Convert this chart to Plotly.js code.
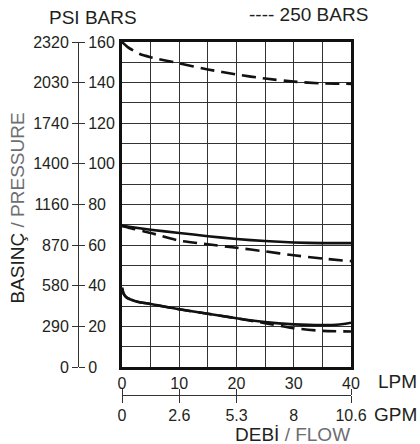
<!DOCTYPE html>
<html>
<head>
<meta charset="utf-8">
<script src="https://cdn.plot.ly/plotly-3.0.1.min.js"></script>
<style>html,body{margin:0;padding:0;background:#fff;}#chart{width:420px;height:444px;}</style>
</head>
<body>
<div id="chart"></div>
<script>
// ---- data ----
const flowLPM = [0, 5, 10, 15, 20, 25, 30, 35, 40];
const lpmTickVals = [0, 5, 10, 15, 20, 25, 30, 35, 40];
const lpmTickText = ['0', '', '10', '', '20', '', '30', '', '40'];
const gpmTickVals = [0, 10, 20, 30, 40];
const gpmTickText = ['0', '2.6', '5.3', '8', '10.6'];
const gpmMarkVals = [0, 10, 20, 40];
const barGridVals = [0, 10, 20, 30, 40, 50, 60, 70, 80, 90, 100, 110, 120, 130, 140, 150, 160];
const barTickVals = [0, 20, 40, 60, 80, 100, 120, 140, 160];
const barTickText = ['0', '20', '40', '60', '80', '100', '120', '140', '160'];
const psiTickText = ['0', '290', '580', '870', '1160', '1400', '1740', '2030', '2320'];

const top250X = [0, 1, 3, 5, 10, 15, 20, 25, 30, 35, 40];
const top250Y = [160, 157.5, 154.2, 152.5, 149.5, 146.5, 144, 142, 140.5, 139.6, 139.4];

const midSolidX = flowLPM;
const midSolidY = [69.5, 67.6, 66, 64.4, 63, 62, 61.3, 61, 61];
const midDashX = [0, 2, 5, 10, 15, 20, 25, 30, 35, 40];
const midDashY = [69.5, 68, 66, 62.2, 60.4, 58.7, 56.9, 55, 53.4, 52.1];

const lowSolidX = [0, 0.3, 0.7, 1.5, 2.5, 5, 10, 15, 20, 25, 30, 35, 38, 40];
const lowSolidY = [39, 36, 34.5, 33.2, 32.3, 31, 28.4, 26.2, 24, 22.1, 21, 20.6, 20.9, 21.8];
const lowDashX = [0, 0.3, 0.7, 1.5, 2.5, 5, 10, 15, 20, 25, 30, 35, 40];
const lowDashY = [39, 36, 34.5, 33.2, 32.3, 31, 28.4, 26.2, 24, 21.6, 19.1, 17.8, 17.5];

// ---- geometry helpers (pixel -> paper) ----
const W = 420, H = 444;
const M = {l: 10, r: 69, t: 42, b: 10};
const PW = W - M.l - M.r, PH = H - M.t - M.b;
const px = v => (v - M.l) / PW;
const py = v => (H - M.b - v) / PH;

const TXT = '#231f20';
const GREY = '#6d6e71';
const FONT = 'Liberation Sans, Arial, Helvetica, sans-serif';

const dashed = {color: '#111', width: 2.6, dash: '14px,7px', shape: 'spline', smoothing: 0.6};
const solid = {color: '#111', width: 2.6, shape: 'spline', smoothing: 0.6};

const traces = [
  {x: top250X, y: top250Y, mode: 'lines', line: dashed},
  {x: lowDashX, y: lowDashY, mode: 'lines', line: dashed},
  {x: midDashX, y: midDashY, mode: 'lines', line: dashed},
  {x: lowSolidX, y: lowSolidY, mode: 'lines', line: solid},
  {x: midSolidX, y: midSolidY, mode: 'lines', line: solid},
  // empty traces so that the auxiliary axes get drawn
  {x: [], y: [], xaxis: 'x2', yaxis: 'y'},
  {x: [], y: [], xaxis: 'x3', yaxis: 'y'},
  {x: [], y: [], xaxis: 'x4', yaxis: 'y'},
  {x: [], y: [], xaxis: 'x', yaxis: 'y2'},
  {x: [], y: [], xaxis: 'x', yaxis: 'y3'}
].map(t => Object.assign({showlegend: false, hoverinfo: 'skip', mode: 'lines'}, t));

const xDom = [px(122), 1];
const yDom = [py(367), 1];
const leftAxisPos = px(78);
const gpmPos = py(395);

const layout = {
  width: W, height: H,
  margin: {l: M.l, r: M.r, t: M.t, b: M.b, pad: 0},
  paper_bgcolor: '#fff', plot_bgcolor: 'rgba(0,0,0,0)',
  font: {family: FONT, color: TXT, size: 16},
  showlegend: false,
  xaxis: {
    domain: xDom, range: [0, 40], anchor: 'y',
    tickvals: lpmTickVals, ticktext: lpmTickText,
    ticks: '',
    tickfont: {size: 16, color: TXT},
    showgrid: true, gridcolor: '#333', gridwidth: 1,
    showline: true, linecolor: '#111', linewidth: 3, mirror: true,
    zeroline: false, fixedrange: true
  },
  yaxis: {
    domain: yDom, range: [0, 160], anchor: 'x',
    tickvals: barGridVals, showticklabels: false, ticks: '',
    showgrid: true, gridcolor: '#333', gridwidth: 1,
    showline: true, linecolor: '#111', linewidth: 3, mirror: true,
    zeroline: false, fixedrange: true
  },
  yaxis2: {
    overlaying: 'y', anchor: 'free', position: leftAxisPos, side: 'left',
    range: [0, 160], tickvals: barTickVals, ticktext: psiTickText,
    ticks: 'outside', ticklen: 6, tickwidth: 1, tickcolor: '#333',
    tickfont: {size: 16, color: TXT},
    showline: true, linecolor: '#333', linewidth: 1,
    showgrid: false, zeroline: false, fixedrange: true
  },
  yaxis3: {
    overlaying: 'y', anchor: 'free', position: leftAxisPos, side: 'right',
    range: [0, 160], tickvals: barTickVals, ticktext: barTickText,
    ticks: 'outside', ticklen: 6, tickwidth: 1, tickcolor: '#333',
    tickfont: {size: 16, color: TXT},
    showline: false, showgrid: false, zeroline: false, fixedrange: true
  },
  xaxis2: {
    overlaying: 'x', anchor: 'free', position: gpmPos, side: 'bottom',
    range: [0, 40], tickvals: gpmTickVals, ticktext: gpmTickText,
    ticks: 'outside', ticklen: 6, tickcolor: 'rgba(0,0,0,0)',
    tickfont: {size: 16, color: TXT},
    showline: true, linecolor: '#333', linewidth: 1,
    showgrid: false, zeroline: false, fixedrange: true
  },
  xaxis3: {
    overlaying: 'x', anchor: 'free', position: gpmPos, side: 'bottom',
    range: [0, 40], tickvals: gpmMarkVals, showticklabels: false,
    ticks: 'outside', ticklen: 7, tickwidth: 1, tickcolor: '#333',
    showline: false, showgrid: false, zeroline: false, fixedrange: true
  },
  xaxis4: {
    overlaying: 'x', anchor: 'free', position: gpmPos, side: 'top',
    range: [0, 40], tickvals: gpmMarkVals, showticklabels: false,
    ticks: 'outside', ticklen: 6, tickwidth: 1, tickcolor: '#333',
    showline: false, showgrid: false, zeroline: false, fixedrange: true
  },
  annotations: [
    {text: 'PSI BARS', x: px(48), y: py(17), xanchor: 'left', yanchor: 'middle',
     font: {size: 19, color: TXT}},
    {text: '---- 250 BARS', x: px(248), y: py(15), xanchor: 'left', yanchor: 'middle',
     font: {size: 19, color: TXT}},
    {text: 'LPM', x: px(377), y: py(381), xanchor: 'left', yanchor: 'middle',
     font: {size: 19, color: TXT}},
    {text: 'GPM', x: px(373), y: py(414), xanchor: 'left', yanchor: 'middle',
     font: {size: 19, color: TXT}},
    {text: 'DEBİ<span style="color:' + GREY + '"> / FLOW</span>', x: px(292), y: py(434),
     xanchor: 'center', yanchor: 'middle', font: {size: 19, color: TXT}},
    {text: 'BASINÇ<span style="color:' + GREY + '"> / PRESSURE</span>', x: px(17), y: py(208.5),
     xanchor: 'center', yanchor: 'middle', textangle: -90, font: {size: 19, color: TXT}}
  ].map(a => Object.assign({xref: 'paper', yref: 'paper', showarrow: false, borderpad: 0}, a))
};

Plotly.newPlot('chart', traces, layout, {staticPlot: true, displayModeBar: false});
</script>
</body>
</html>
